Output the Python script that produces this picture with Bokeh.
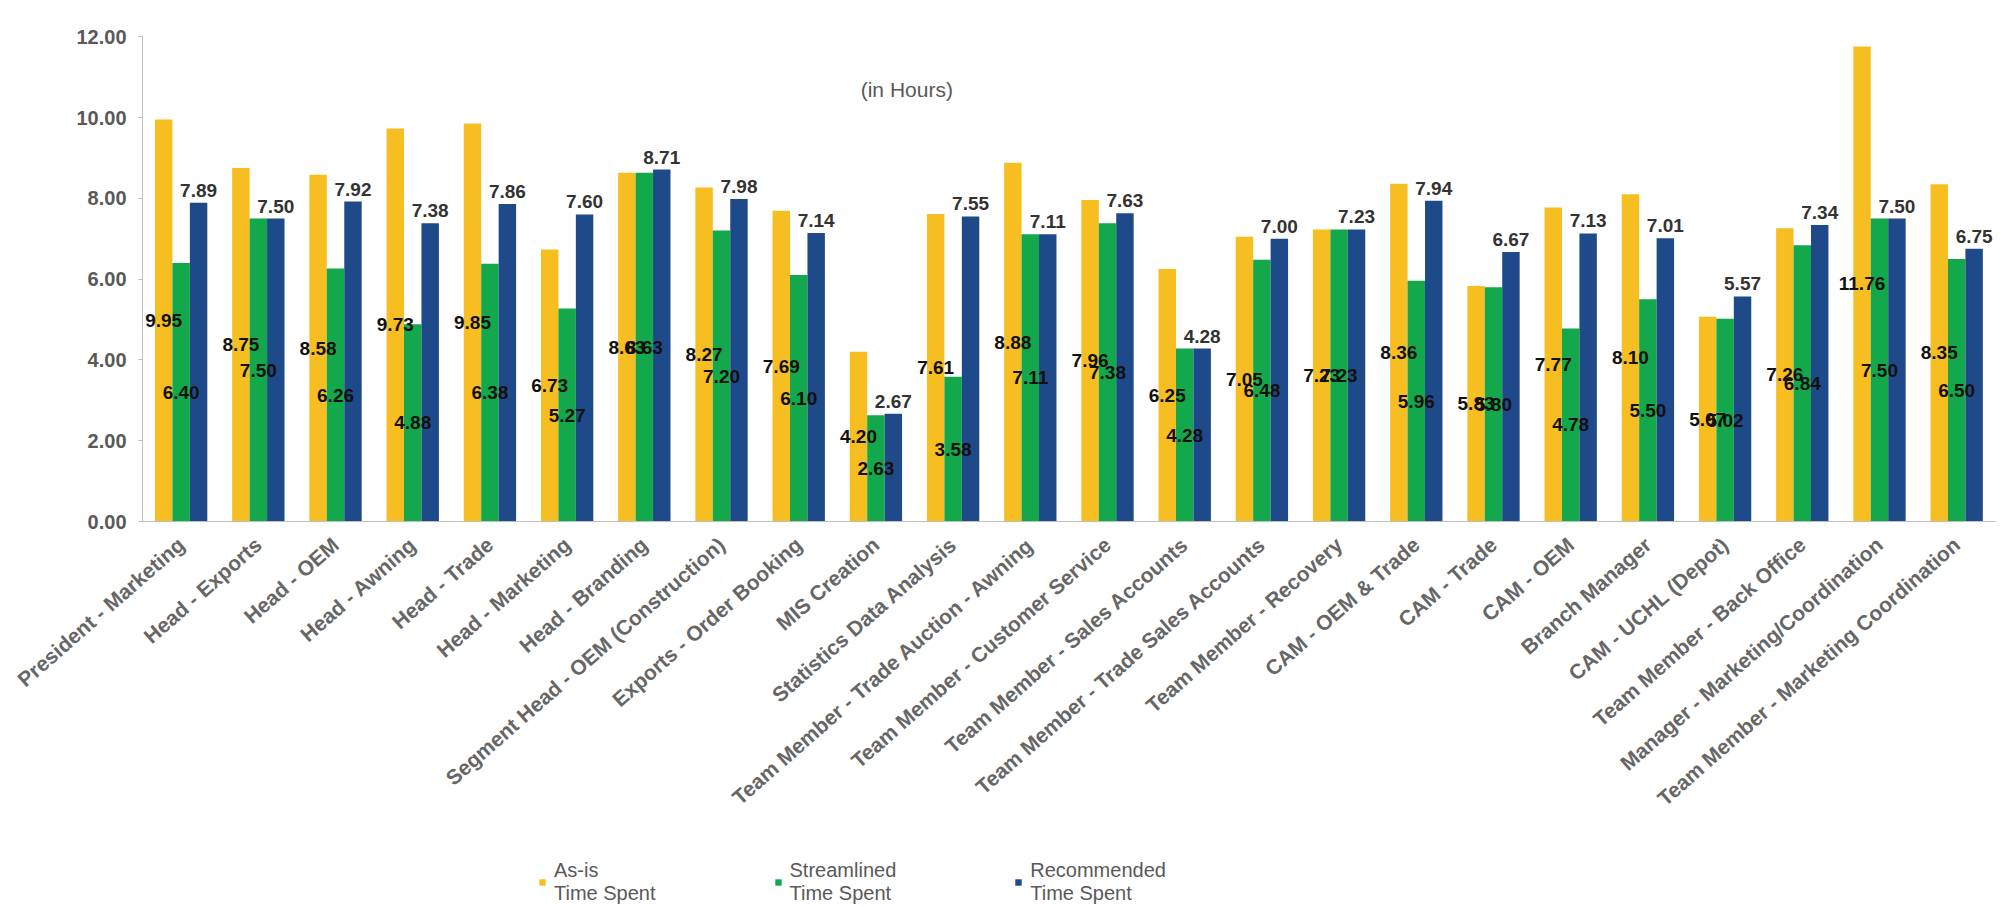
from bokeh.plotting import figure
from bokeh.models import (ColumnDataSource, Range1d, LabelSet, Legend,
                          LegendItem, Label, FixedTicker, NumeralTickFormatter)
from bokeh.transform import dodge
from bokeh.embed import file_html
from bokeh.resources import INLINE
from bokeh.core.properties import value

categories = [
    "President - Marketing", "Head - Exports", "Head - OEM", "Head - Awning",
    "Head - Trade", "Head - Marketing", "Head - Branding",
    "Segment Head - OEM (Construction)", "Exports - Order Booking", "MIS Creation",
    "Statistics Data Analysis", "Team Member - Trade Auction - Awning",
    "Team Member - Customer Service", "Team Member - Sales Accounts",
    "Team Member - Trade Sales Accounts", "Team Member - Recovery",
    "CAM - OEM & Trade", "CAM - Trade", "CAM - OEM", "Branch Manager",
    "CAM - UCHL (Depot)", "Team Member - Back Office",
    "Manager - Marketing/Coordination", "Team Member - Marketing Coordination",
]
as_is = [9.95, 8.75, 8.58, 9.73, 9.85, 6.73, 8.63, 8.27, 7.69, 4.20, 7.61, 8.88,
         7.96, 6.25, 7.05, 7.23, 8.36, 5.83, 7.77, 8.10, 5.07, 7.26, 11.76, 8.35]
streamlined = [6.40, 7.50, 6.26, 4.88, 6.38, 5.27, 8.63, 7.20, 6.10, 2.63, 3.58, 7.11,
               7.38, 4.28, 6.48, 7.23, 5.96, 5.80, 4.78, 5.50, 5.02, 6.84, 7.50, 6.50]
recommended = [7.89, 7.50, 7.92, 7.38, 7.86, 7.60, 8.71, 7.98, 7.14, 2.67, 7.55, 7.11,
               7.63, 4.28, 7.00, 7.23, 7.94, 6.67, 7.13, 7.01, 5.57, 7.34, 7.50, 6.75]
series_names = ["As-is\nTime Spent", "Streamlined\nTime Spent", "Recommended\nTime Spent"]
y_ticks = [0, 2, 4, 6, 8, 10, 12]
chart_note = "(in Hours)"

YEL = "#F7BE22"
GRN = "#13A84C"
BLU = "#1F4A8A"
FONT = "Liberation Sans"
GREY = "#595959"

n = len(categories)
pos = list(range(n))  # category slots on the x axis

src = ColumnDataSource(dict(
    x=pos, cat=categories,
    asis=as_is, stream=streamlined, rec=recommended,
    asis_mid=[v / 2 for v in as_is],
    stream_mid=[v / 2 for v in streamlined],
    asis_txt=["%.2f" % v for v in as_is],
    stream_txt=["%.2f" % v for v in streamlined],
    rec_txt=["%.2f" % v for v in recommended],
))

# Frame fills the canvas; axes are pinned at x=-0.5 / y=0 so that the category
# labels and the legend below the zero line are not clipped.
p = figure(x_range=Range1d(-0.5 - 1.84, n - 0.5 + 0.262),
           y_range=Range1d(-9.554, 12.896),
           width=2015, height=907, output_backend="svg", toolbar_location=None,
           min_border_left=0, min_border_right=0, min_border_top=0,
           min_border_bottom=0)
p.outline_line_color = None
p.xgrid.grid_line_color = None
p.ygrid.grid_line_color = None
p.background_fill_color = "white"

BW = 0.226
r1 = p.vbar(x=dodge("x", -BW), top="asis", width=BW, source=src,
            fill_color=YEL, line_color=None)
r2 = p.vbar(x=dodge("x", 0), top="stream", width=BW, source=src,
            fill_color=GRN, line_color=None)
r3 = p.vbar(x=dodge("x", BW), top="rec", width=BW, source=src,
            fill_color=BLU, line_color=None)

lab_kw = dict(source=src, text_align="center", text_font=value(FONT),
              text_font_size="19px", text_font_style="bold")
p.add_layout(LabelSet(x=dodge("x", -BW), y="asis_mid", text="asis_txt",
                      text_baseline="middle", text_color="#111111", **lab_kw))
p.add_layout(LabelSet(x=dodge("x", 0), y="stream_mid", text="stream_txt",
                      text_baseline="middle", text_color="#111111", **lab_kw))
p.add_layout(LabelSet(x=dodge("x", BW), y="rec", text="rec_txt",
                      y_offset=6, text_baseline="bottom", text_color="#333333", **lab_kw))

p.add_layout(Label(x=9.4, y=10.69, text=chart_note, text_align="center",
                   text_baseline="middle", text_font=FONT, text_font_size="21px",
                   text_color=GREY))

# value axis
p.yaxis.fixed_location = -0.5
p.yaxis.bounds = (0, 12)
p.yaxis.ticker = FixedTicker(ticks=y_ticks)
p.yaxis.formatter = NumeralTickFormatter(format="0.00")
p.yaxis.axis_line_color = "#BFBFBF"
p.yaxis.major_tick_line_color = "#BFBFBF"
p.yaxis.major_tick_out = 4
p.yaxis.major_tick_in = 0
p.yaxis.minor_tick_line_color = None
p.yaxis.major_label_standoff = 12
p.yaxis.major_label_text_font = FONT
p.yaxis.major_label_text_font_size = "20px"
p.yaxis.major_label_text_font_style = "bold"
p.yaxis.major_label_text_color = GREY

# category axis
p.xaxis.fixed_location = 0
p.xaxis.bounds = (-0.5, n - 0.5)
p.xaxis.ticker = FixedTicker(ticks=pos)
p.xaxis.major_label_overrides = {i: c for i, c in zip(pos, categories)}
p.xaxis.axis_line_color = "#BFBFBF"
p.xaxis.major_tick_line_color = None
p.xaxis.minor_tick_line_color = None
p.xaxis.major_label_orientation = 0.72
p.xaxis.major_label_standoff = 14
p.xaxis.major_label_text_font = FONT
p.xaxis.major_label_text_font_size = "21px"
p.xaxis.major_label_text_font_style = "bold"
p.xaxis.major_label_text_color = "#666666"

legend = Legend(items=[LegendItem(label=series_names[0], renderers=[r1]),
                       LegendItem(label=series_names[1], renderers=[r2]),
                       LegendItem(label=series_names[2], renderers=[r3])],
                orientation="horizontal", location=(538, 2),
                glyph_width=8, glyph_height=8, label_standoff=8, spacing=118,
                padding=0, margin=0, border_line_color=None, background_fill_alpha=0,
                label_text_font=FONT, label_text_font_size="20px",
                label_text_color=GREY, label_text_line_height=1.35)
p.add_layout(legend)

open("out.html", "w").write(file_html(p, INLINE))
